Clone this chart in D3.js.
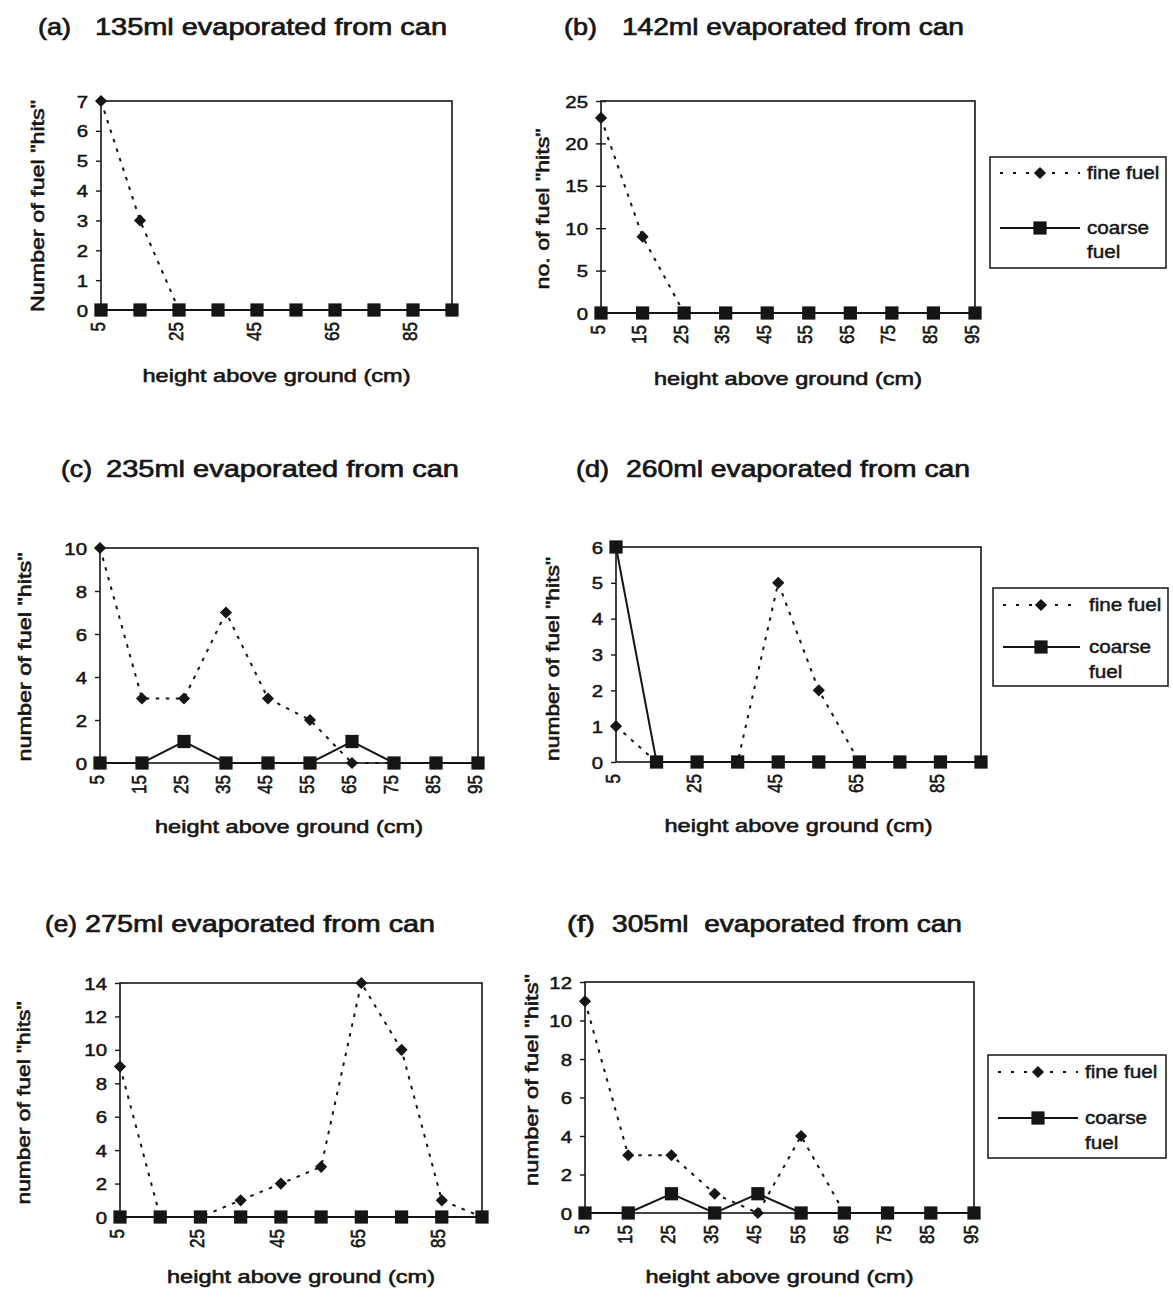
<!DOCTYPE html>
<html><head><meta charset="utf-8">
<script src="https://cdn.jsdelivr.net/npm/d3@7"></script>
<style>
html,body{margin:0;padding:0;background:#fff;}
svg{display:block;}
text{font-family:"Liberation Sans",Arial,Helvetica,sans-serif;fill:#151515;white-space:pre;}
</style></head><body>
<svg id="chart" width="1173" height="1302"></svg>
<script>
// ---------- data ----------
const categories = [5, 15, 25, 35, 45, 55, 65, 75, 85, 95];
const seriesNames = ["fine fuel", "coarse fuel"];
const panelLetters = ["(a)", "(b)", "(c)", "(d)", "(e)", "(f)"];
const panelTitles = [
  "135ml evaporated from can",
  "142ml evaporated from can",
  "235ml evaporated from can",
  "260ml evaporated from can",
  "275ml evaporated from can",
  "305ml  evaporated from can"
];
const yAxisTitles = [
  'Number of fuel "hits"',
  'no. of fuel "hits"',
  'number of fuel "hits"',
  'number of fuel "hits"',
  'number of fuel "hits"',
  'number of fuel "hits"'
];
const xAxisTitle = "height above ground (cm)";

const fineA   = [7, 3, 0, 0, 0, 0, 0, 0, 0, 0];
const coarseA = [0, 0, 0, 0, 0, 0, 0, 0, 0, 0];
const fineB   = [23, 9, 0, 0, 0, 0, 0, 0, 0, 0];
const coarseB = [0, 0, 0, 0, 0, 0, 0, 0, 0, 0];
const fineC   = [10, 3, 3, 7, 3, 2, 0, 0, 0, 0];
const coarseC = [0, 0, 1, 0, 0, 0, 1, 0, 0, 0];
const fineD   = [1, 0, 0, 0, 5, 2, 0, 0, 0, 0];
const coarseD = [6, 0, 0, 0, 0, 0, 0, 0, 0, 0];
const fineE   = [9, 0, 0, 1, 2, 3, 14, 10, 1, 0];
const coarseE = [0, 0, 0, 0, 0, 0, 0, 0, 0, 0];
const fineF   = [11, 3, 3, 1, 0, 4, 0, 0, 0, 0];
const coarseF = [0, 0, 1, 0, 1, 0, 0, 0, 0, 0];

const yTicksA = [0, 1, 2, 3, 4, 5, 6, 7];
const yTicksB = [0, 5, 10, 15, 20, 25];
const yTicksC = [0, 2, 4, 6, 8, 10];
const yTicksD = [0, 1, 2, 3, 4, 5, 6];
const yTicksE = [0, 2, 4, 6, 8, 10, 12, 14];
const yTicksF = [0, 2, 4, 6, 8, 10, 12];

const xLabelsSparse = [5, 25, 45, 65, 85];
const xLabelsAll = [5, 15, 25, 35, 45, 55, 65, 75, 85, 95];

// ---------- layout ----------
const panels = [
  {letter: panelLetters[0], title: panelTitles[0], yTitle: yAxisTitles[0], fine: fineA, coarse: coarseA, yTicks: yTicksA, xLabels: xLabelsSparse,
   box: {l: 101, r: 452, t: 101, b: 310}, tl: {lx: 38, lw: 33, rx: 95, rw: 352, y: 35}, yt: {cx: 37, cy: 206, len: 212}, xt: {y: 382}, cross: false, legend: null},
  {letter: panelLetters[1], title: panelTitles[1], yTitle: yAxisTitles[1], fine: fineB, coarse: coarseB, yTicks: yTicksB, xLabels: xLabelsAll,
   box: {l: 601, r: 975, t: 101, b: 313}, tl: {lx: 564, lw: 33, rx: 622, rw: 342, y: 35}, yt: {cx: 542, cy: 209, len: 161}, xt: {y: 385}, cross: true,
   legend: {l: 990, r: 1166, t: 157, b: 268, fy: 173, cy: 228, tx: 1087, sx0: 1000, sx1: 1080, mx: 1040, fuelDy: 24}},
  {letter: panelLetters[2], title: panelTitles[2], yTitle: yAxisTitles[2], fine: fineC, coarse: coarseC, yTicks: yTicksC, xLabels: xLabelsAll,
   box: {l: 100, r: 478, t: 548, b: 763}, tl: {lx: 61, lw: 31, rx: 106, rw: 353, y: 477}, yt: {cx: 24, cy: 657, len: 209}, xt: {y: 833}, cross: false, legend: null},
  {letter: panelLetters[3], title: panelTitles[3], yTitle: yAxisTitles[3], fine: fineD, coarse: coarseD, yTicks: yTicksD, xLabels: xLabelsSparse,
   box: {l: 616, r: 981, t: 547, b: 762}, tl: {lx: 576, lw: 33, rx: 626, rw: 344, y: 477}, yt: {cx: 552, cy: 659, len: 204}, xt: {y: 832}, cross: false,
   legend: {l: 993, r: 1168, t: 588, b: 686, fy: 605, cy: 647, tx: 1089, sx0: 1003, sx1: 1080, mx: 1041, fuelDy: 25}},
  {letter: panelLetters[4], title: panelTitles[4], yTitle: yAxisTitles[4], fine: fineE, coarse: coarseE, yTicks: yTicksE, xLabels: xLabelsSparse,
   box: {l: 120, r: 482, t: 983, b: 1217}, tl: {lx: 45, lw: 32, rx: 85, rw: 350, y: 932}, yt: {cx: 23, cy: 1103, len: 203}, xt: {y: 1283}, cross: false, legend: null},
  {letter: panelLetters[5], title: panelTitles[5], yTitle: yAxisTitles[5], fine: fineF, coarse: coarseF, yTicks: yTicksF, xLabels: xLabelsAll,
   box: {l: 585, r: 974, t: 982, b: 1213}, tl: {lx: 567, lw: 28, rx: 612, rw: 350, y: 932}, yt: {cx: 531, cy: 1080, len: 212}, xt: {y: 1283}, cross: false,
   legend: {l: 988, r: 1166, t: 1055, b: 1158, fy: 1072, cy: 1118, tx: 1085, sx0: 998, sx1: 1078, mx: 1038, fuelDy: 25}}
];

const INK = "#151515";
const svg = d3.select("#chart");
svg.append("rect").attr("width", 1173).attr("height", 1302).attr("fill", "#fff");

const diamond = d3.symbol().type(d3.symbolDiamond2).size(95);
const square = d3.symbol().type(d3.symbolSquare).size(175);

function stext(g, str, x, y, size, anchor, sx, rot, sw) {
  return g.append("text")
    .attr("transform", `translate(${x},${y}) scale(${sx},1)` + (rot ? ` rotate(${rot})` : ""))
    .attr("text-anchor", anchor)
    .attr("font-size", size)
    .attr("stroke", INK).attr("stroke-width", sw || 0.3)
    .text(str);
}

panels.forEach(p => {
  const g = svg.append("g");
  const B = p.box;
  const x = d3.scalePoint().domain(categories).range([B.l, B.r]);
  const yMax = p.yTicks[p.yTicks.length - 1];
  const y = d3.scaleLinear().domain([0, yMax]).range([B.b, B.t]);

  // title
  g.append("text").attr("x", p.tl.lx).attr("y", p.tl.y)
    .attr("font-size", 24).attr("textLength", p.tl.lw).attr("lengthAdjust", "spacingAndGlyphs")
    .attr("stroke", INK).attr("stroke-width", 0.7)
    .text(p.letter);
  g.append("text").attr("x", p.tl.rx).attr("y", p.tl.y)
    .attr("font-size", 24).attr("textLength", p.tl.rw).attr("lengthAdjust", "spacingAndGlyphs")
    .attr("stroke", INK).attr("stroke-width", 0.7)
    .text(p.title);

  // y axis
  const ya = g.append("g").attr("transform", `translate(${B.l},0)`)
    .call(d3.axisLeft(y).tickValues(p.yTicks).tickSize(5).tickFormat(d3.format("d")));
  ya.select(".domain").remove();
  ya.selectAll(".tick line").attr("stroke", INK).attr("stroke-width", 1.4);
  if (p.cross) ya.selectAll(".tick line").attr("x1", 5);
  ya.selectAll(".tick text")
    .attr("x", null).attr("dy", null)
    .attr("transform", "translate(-13,6) scale(1.2,1)")
    .attr("font-size", 17).attr("font-family", null).attr("fill", INK)
    .attr("stroke", INK).attr("stroke-width", 0.5);

  // x axis labels
  const xa = g.append("g").attr("transform", `translate(0,${B.b})`)
    .call(d3.axisBottom(x).tickValues(p.xLabels).tickSize(0));
  xa.select(".domain").remove();
  xa.selectAll(".tick text")
    .attr("y", null).attr("dy", null)
    .attr("transform", "translate(3,12) scale(1.2,1) rotate(-90)")
    .attr("text-anchor", "end")
    .attr("font-size", 17).attr("font-family", null).attr("fill", INK)
    .attr("stroke", INK).attr("stroke-width", 0.5);

  // axis titles
  g.append("text").attr("x", (B.l + B.r) / 2).attr("y", p.xt.y)
    .attr("text-anchor", "middle").attr("font-size", 19)
    .attr("textLength", 268).attr("lengthAdjust", "spacingAndGlyphs")
    .attr("stroke", INK).attr("stroke-width", 0.6)
    .text(xAxisTitle);
  g.append("text").attr("transform", `translate(${p.yt.cx + 7},${p.yt.cy}) rotate(-90)`)
    .attr("text-anchor", "middle").attr("font-size", 19)
    .attr("textLength", p.yt.len).attr("lengthAdjust", "spacingAndGlyphs")
    .attr("stroke", INK).attr("stroke-width", 0.6)
    .text(p.yTitle);

  // frame
  g.append("rect").attr("x", B.l).attr("y", B.t).attr("width", B.r - B.l).attr("height", B.b - B.t)
    .attr("fill", "none").attr("stroke", INK).attr("stroke-width", 1.6);

  const line = d3.line().x((d, i) => x(categories[i])).y(d => y(d));
  g.append("path").datum(p.fine).attr("d", line)
    .attr("fill", "none").attr("stroke", INK).attr("stroke-width", 2).attr("stroke-dasharray", "3.5,6.5");
  g.append("path").datum(p.coarse).attr("d", line)
    .attr("fill", "none").attr("stroke", INK).attr("stroke-width", 2);

  g.selectAll(".dia").data(p.fine).join("path").attr("class", "dia")
    .attr("d", diamond).attr("transform", (d, i) => `translate(${x(categories[i])},${y(d)})`).attr("fill", INK);
  g.selectAll(".sq").data(p.coarse).join("path").attr("class", "sq")
    .attr("d", square).attr("transform", (d, i) => `translate(${x(categories[i])},${y(d)})`).attr("fill", INK);

  // legend
  if (p.legend) {
    const L = p.legend;
    g.append("rect").attr("x", L.l).attr("y", L.t).attr("width", L.r - L.l).attr("height", L.b - L.t)
      .attr("fill", "#fff").attr("stroke", INK).attr("stroke-width", 1.5);
    g.append("line").attr("x1", L.sx0).attr("x2", L.sx1).attr("y1", L.fy).attr("y2", L.fy)
      .attr("stroke", INK).attr("stroke-width", 2).attr("stroke-dasharray", "3,10");
    g.append("path").attr("d", diamond).attr("transform", `translate(${L.mx},${L.fy})`).attr("fill", INK);
    stext(g, seriesNames[0], L.tx, L.fy + 6, 18, "start", 1.15, 0, 0.45);
    g.append("line").attr("x1", L.sx0).attr("x2", L.sx1).attr("y1", L.cy).attr("y2", L.cy)
      .attr("stroke", INK).attr("stroke-width", 1.8);
    g.append("path").attr("d", square).attr("transform", `translate(${L.mx},${L.cy})`).attr("fill", INK);
    const words = seriesNames[1].split(" ");
    stext(g, words[0], L.tx, L.cy + 6, 18, "start", 1.15, 0, 0.45);
    stext(g, words[1], L.tx, L.cy + 6 + L.fuelDy, 18, "start", 1.15, 0, 0.45);
  }
});
</script>
</body></html>
